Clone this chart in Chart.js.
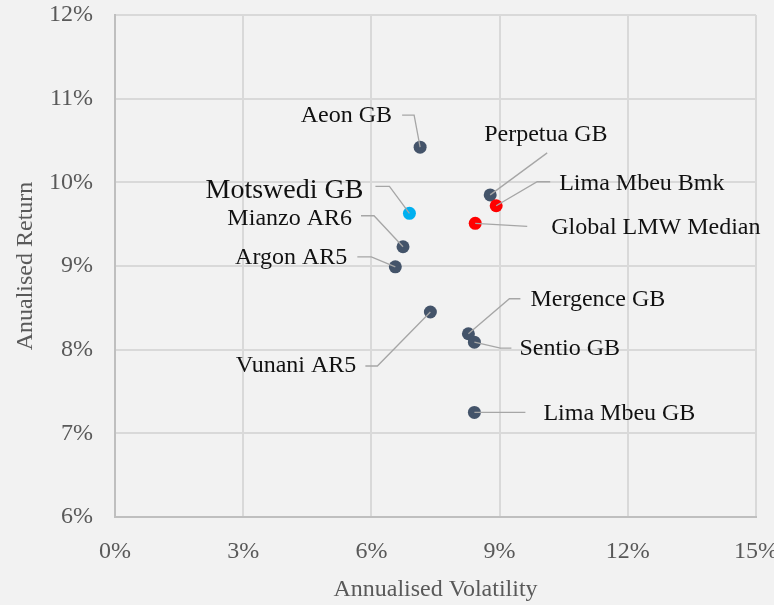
<!DOCTYPE html>
<html>
<head>
<meta charset="utf-8">
<script src="https://cdn.jsdelivr.net/npm/chart.js@4.4.1/dist/chart.umd.min.js"></script>
<style>
  html,body{margin:0;padding:0;background:#f2f2f2;}
  #wrap{width:774px;height:605px;position:relative;}
</style>
</head>
<body>
<div id="wrap"><canvas id="riskReturn"></canvas></div>
<script>
// --- data (values in %) ---
const funds = ['Aeon GB','Perpetua GB','Lima Mbeu Bmk','Global LMW Median','Motswedi GB',
  'Mianzo AR6','Argon AR5','Vunani AR5','Mergence GB','Sentio GB','Lima Mbeu GB'];
const volatility = [7.14, 8.78, 8.92, 8.43, 6.89, 6.74, 6.56, 7.38, 8.27, 8.41, 8.41];
const returns    = [10.42, 9.85, 9.72, 9.51, 9.63, 9.23, 8.99, 8.45, 8.19, 8.09, 7.25];
const kinds      = ['peer','peer','bench','bench','focus','peer','peer','peer','peer','peer','peer'];
const xTicks = [0, 3, 6, 9, 12, 15];
const yTicks = [6, 7, 8, 9, 10, 11, 12];

const kindColors = { peer:'#44546a', focus:'#00b0f0', bench:'#ff0000' };

// label placement relative to each point (px): text anchor, elbow and end of leader line
const labelLayout = [
  {text:[-28,-31], align:'right', elbow:[-6,-32],  end:[-18,-32]},
  {text:[-6,-60],  align:'left',  elbow:[57,-42],  end:[57,-42]},
  {text:[63,-22],  align:'left',  elbow:[41,-24],  end:[54,-24]},
  {text:[76,4],    align:'left',  elbow:[52,3],    end:[52,3]},
  {text:[-46,-23], align:'right', elbow:[-20,-27], end:[-34,-27], size:28},
  {text:[-51,-28], align:'right', elbow:[-29,-31], end:[-42,-31]},
  {text:[-48,-9],  align:'right', elbow:[-24,-10], end:[-38,-10]},
  {text:[-74,54],  align:'right', elbow:[-53,54],  end:[-65,54]},
  {text:[62,-34],  align:'left',  elbow:[41,-35],  end:[52,-35]},
  {text:[45,7],    align:'left',  elbow:[26,6],    end:[37,6]},
  {text:[69,1],    align:'left',  elbow:[51,0],    end:[51,0]}
];

const serif = "'Liberation Serif', 'DejaVu Serif', serif";

// draw leader lines + labels on top of the points
const leaderLabels = {
  id:'leaderLabels',
  afterDatasetsDraw(chart){
    const ctx = chart.ctx;
    const meta = chart.getDatasetMeta(0);
    ctx.save();
    meta.data.forEach((pt,i)=>{
      const L = labelLayout[i];
      ctx.strokeStyle = '#a6a6a6';
      ctx.lineWidth = 1.3;
      ctx.beginPath();
      ctx.moveTo(pt.x, pt.y);
      ctx.lineTo(pt.x+L.elbow[0], pt.y+L.elbow[1]);
      ctx.lineTo(pt.x+L.end[0], pt.y+L.end[1]);
      ctx.stroke();
      ctx.font = `${L.size||24}px ${serif}`;
      ctx.textAlign = L.align;
      ctx.textBaseline = 'middle';
      ctx.fillStyle = '#111';
      ctx.fillText(funds[i], pt.x+L.text[0], pt.y+L.text[1]);
    });
    ctx.restore();
  }
};

const bgFill = {
  id:'bgFill',
  beforeDraw(chart){
    const c = chart.ctx;
    c.save(); c.fillStyle='#f2f2f2'; c.fillRect(0,0,chart.width,chart.height); c.restore();
  }
};

new Chart(document.getElementById('riskReturn'),{
  type:'scatter',
  data:{
    datasets:[{
      data: funds.map((_,i)=>({x:volatility[i], y:returns[i]})),
      backgroundColor: kinds.map(k=>kindColors[k]),
      borderColor: kinds.map(k=>kindColors[k]),
      borderWidth:0,
      pointRadius:6.5,
      pointHoverRadius:6.5
    }]
  },
  options:{
    responsive:true,
    maintainAspectRatio:false,
    animation:false,
    layout:{padding:0},
    plugins:{legend:{display:false}, tooltip:{enabled:false}},
    scales:{
      x:{
        type:'linear', min:xTicks[0], max:xTicks[xTicks.length-1],
        afterBuildTicks:s=>{ s.ticks = xTicks.map(v=>({value:v})); },
        afterFit:s=>{ s.height = 88; s.paddingLeft = 0; s.paddingRight = 18; },
        grid:{color:'#d9d9d9', lineWidth:2, drawTicks:false},
        border:{color:'#bfbfbf', width:2},
        ticks:{padding:20, color:'#595959', font:{family:serif, size:24}, callback:v=>v+'%'},
        title:{display:true, text:'Annualised Volatility', color:'#595959',
          font:{family:serif, size:24}, padding:{top:0, bottom:1}}
      },
      y:{
        type:'linear', min:yTicks[0], max:yTicks[yTicks.length-1],
        afterBuildTicks:s=>{ s.ticks = yTicks.map(v=>({value:v})); },
        afterFit:s=>{ s.width = 115; s.paddingTop = 15; s.paddingBottom = 0; },
        grid:{color:'#d9d9d9', lineWidth:2, drawTicks:false},
        border:{color:'#bfbfbf', width:2},
        ticks:{padding:22, color:'#595959', font:{family:serif, size:24}, callback:v=>v+'%'},
        title:{display:true, text:'Anualised Return', color:'#595959',
          font:{family:serif, size:24}, padding:{top:11, bottom:0}}
      }
    }
  },
  plugins:[bgFill, leaderLabels]
});
</script>
</body>
</html>
